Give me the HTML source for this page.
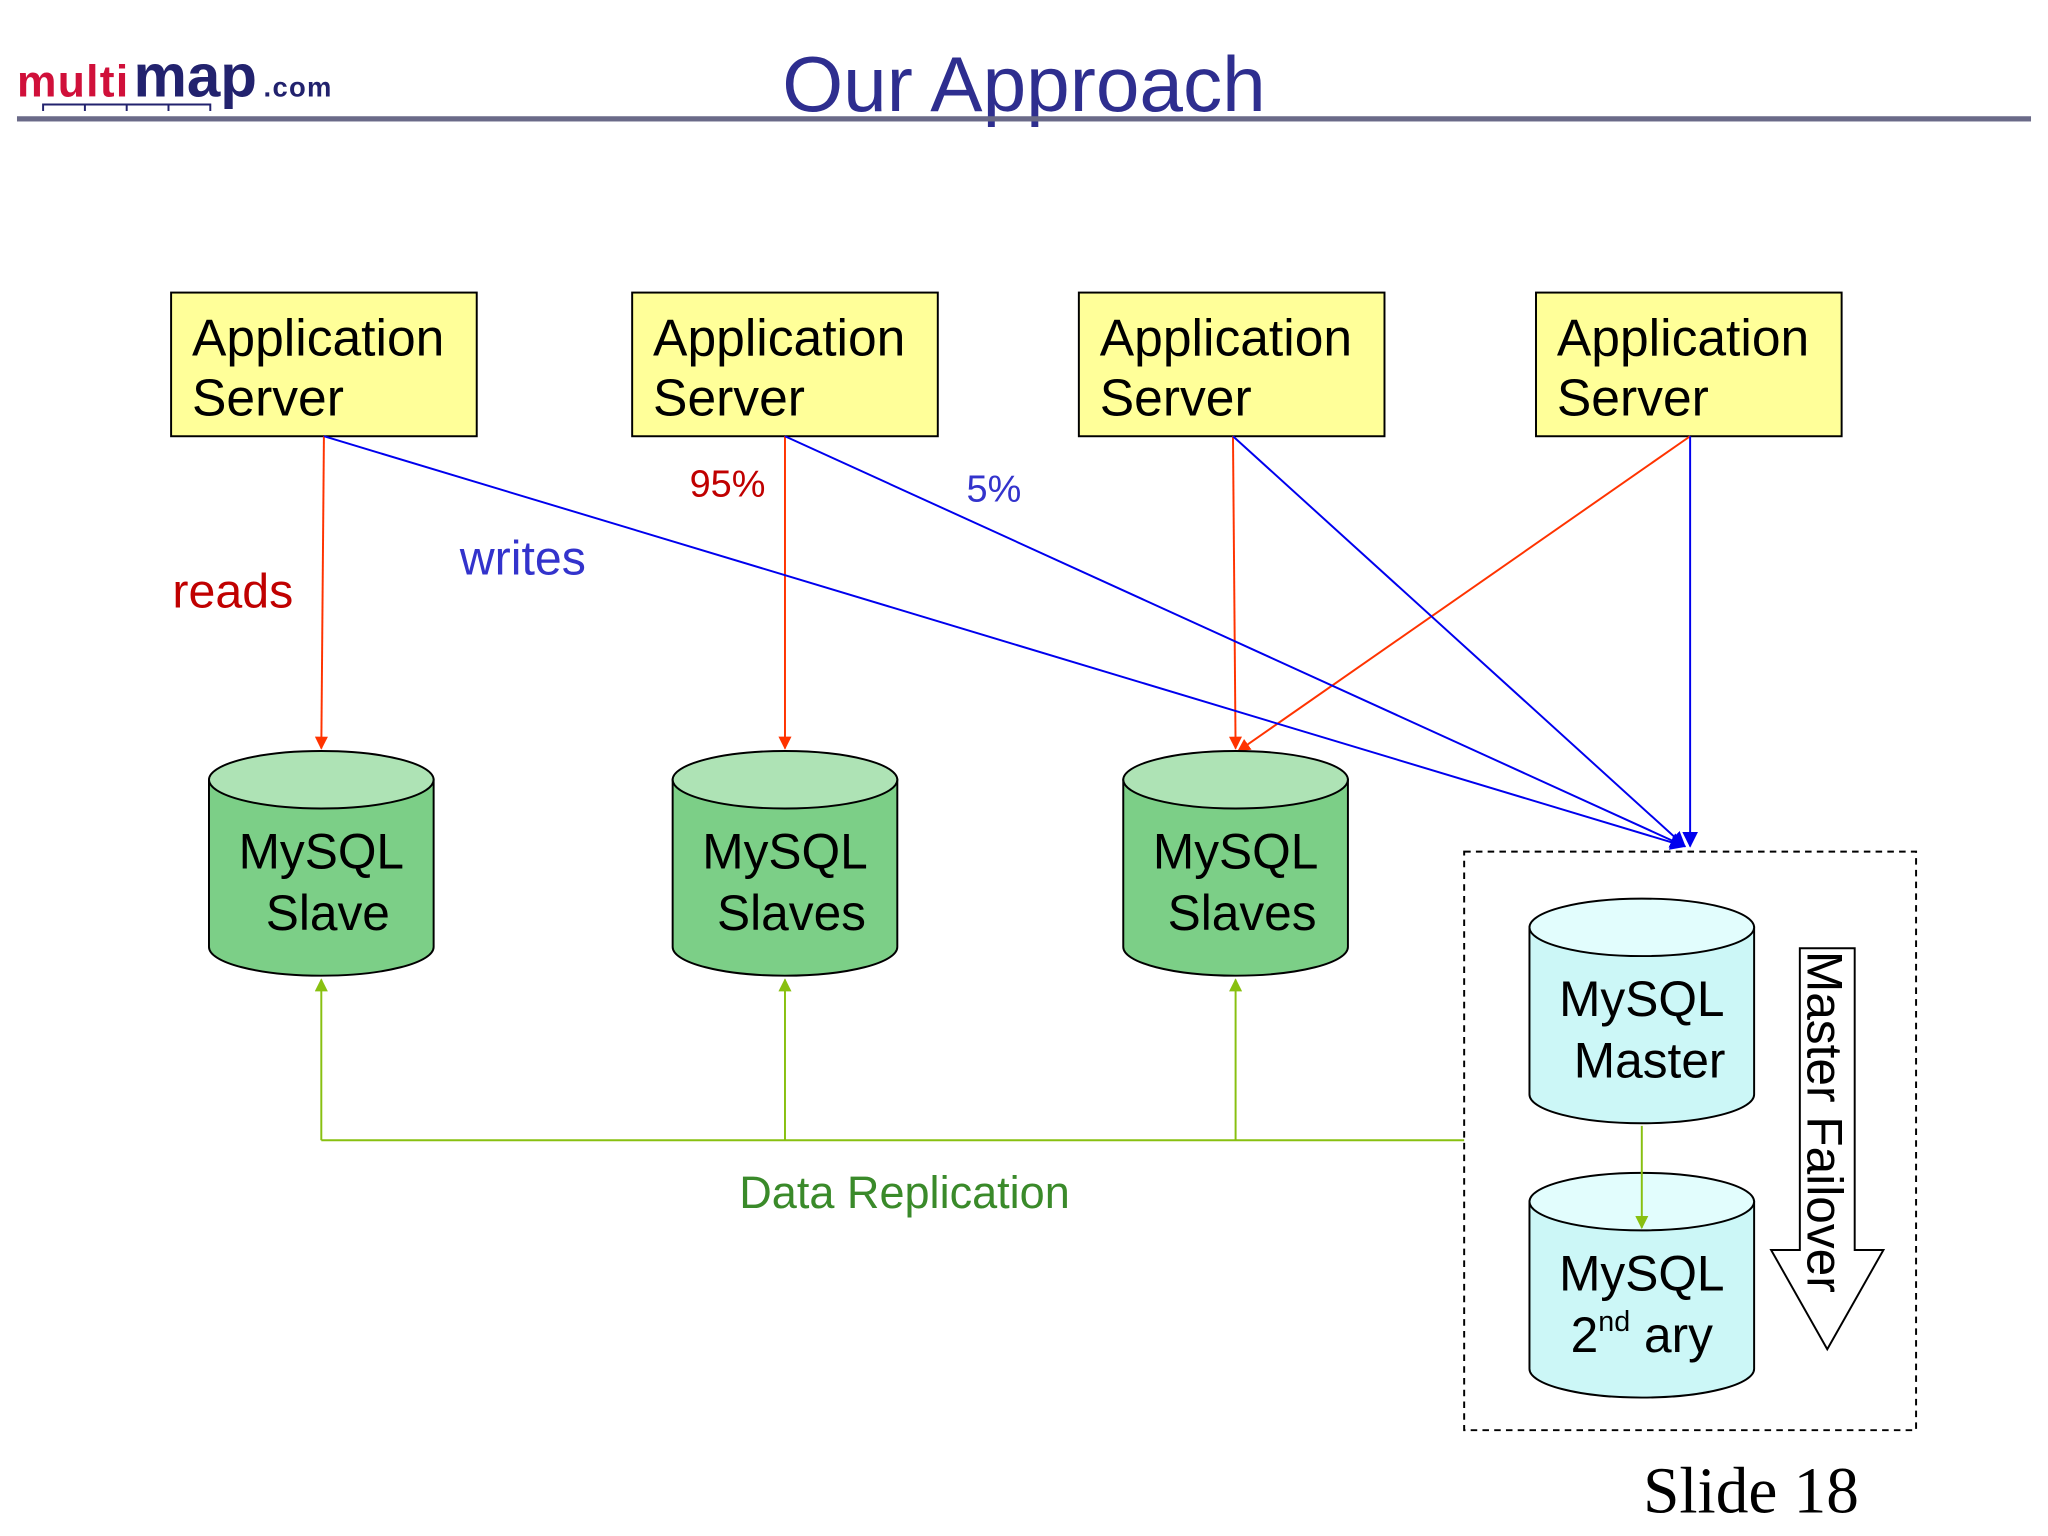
<!DOCTYPE html>
<html><head><meta charset="utf-8"><style>html,body{margin:0;padding:0;background:#fff}svg{display:block}</style></head>
<body>
<svg width="2048" height="1536" viewBox="0 0 1568 1176" xmlns="http://www.w3.org/2000/svg" font-family="Liberation Sans, sans-serif">
<defs>
<marker id="ar" markerWidth="10" markerHeight="10" refX="9" refY="5" orient="auto" markerUnits="userSpaceOnUse"><path d="M0,0 L10,5 L0,10 z" fill="#ff3300"/></marker>
<marker id="ab" markerWidth="12" markerHeight="12" refX="11" refY="6" orient="auto" markerUnits="userSpaceOnUse"><path d="M0,0 L12,6 L0,12 z" fill="#0000ee"/></marker>
<marker id="ag" markerWidth="10" markerHeight="10" refX="9" refY="5" orient="auto" markerUnits="userSpaceOnUse"><path d="M0,0 L10,5 L0,10 z" fill="#88c010"/></marker>
</defs>
<rect width="1568" height="1176" fill="#fff"/>
<text x="13" y="74" font-size="34" font-weight="bold" fill="#d0103a" letter-spacing="1">multi<tspan dx="3" fill="#22226e" font-size="46" letter-spacing="0">map</tspan><tspan dx="5" fill="#22226e" font-size="21">.com</tspan></text>
<path d="M33,85 V80 H161 V85 M65,80 V85 M97,80 V85 M129,80 V85" stroke="#22226e" stroke-width="1.5" fill="none"/>
<text x="784" y="85" font-size="60" fill="#2e2e8f" text-anchor="middle">Our Approach</text>
<rect x="13" y="89" width="1542" height="4" fill="#6a6a88"/>
<g fill="#ffff99" stroke="#000" stroke-width="1.5">
<rect x="131" y="224" width="234" height="110"/><rect x="484" y="224" width="234" height="110"/><rect x="826" y="224" width="234" height="110"/><rect x="1176" y="224" width="234" height="110"/>
</g>
<g font-size="39.5" fill="#000">
<text x="147" y="272">Application</text><text x="147" y="318">Server</text>
<text x="500" y="272">Application</text><text x="500" y="318">Server</text>
<text x="842" y="272">Application</text><text x="842" y="318">Server</text>
<text x="1192" y="272">Application</text><text x="1192" y="318">Server</text>
</g>
<g stroke-width="1.5" fill="none">
<line x1="248" y1="334" x2="246" y2="573" stroke="#ff3300" marker-end="url(#ar)"/>
<line x1="601" y1="334" x2="601" y2="573" stroke="#ff3300" marker-end="url(#ar)"/>
<line x1="944" y1="334" x2="946" y2="573" stroke="#ff3300" marker-end="url(#ar)"/>
<line x1="1294" y1="334" x2="948" y2="575" stroke="#ff3300" marker-end="url(#ar)"/>
<line x1="248" y1="334" x2="1290" y2="648" stroke="#0000ee" marker-end="url(#ab)"/>
<line x1="601" y1="334" x2="1290" y2="648" stroke="#0000ee" marker-end="url(#ab)"/>
<line x1="944" y1="334" x2="1290" y2="648" stroke="#0000ee" marker-end="url(#ab)"/>
<line x1="1294" y1="334" x2="1294" y2="648" stroke="#0000ee" marker-end="url(#ab)"/>
<path d="M1121,873 H246" stroke="#88c010"/>
<line x1="246" y1="873" x2="246" y2="750" stroke="#88c010" marker-end="url(#ag)"/>
<line x1="601" y1="873" x2="601" y2="750" stroke="#88c010" marker-end="url(#ag)"/>
<line x1="946" y1="873" x2="946" y2="750" stroke="#88c010" marker-end="url(#ag)"/>
</g>
<g stroke="#000" stroke-width="1.5">
<path d="M160,597 V725 A86,22 0 0 0 332,725 V597 Z" fill="#7ccf87"/><ellipse cx="246" cy="597" rx="86" ry="22" fill="#aee3b5"/>
<path d="M515,597 V725 A86,22 0 0 0 687,725 V597 Z" fill="#7ccf87"/><ellipse cx="601" cy="597" rx="86" ry="22" fill="#aee3b5"/>
<path d="M860,597 V725 A86,22 0 0 0 1032,725 V597 Z" fill="#7ccf87"/><ellipse cx="946" cy="597" rx="86" ry="22" fill="#aee3b5"/>
<path d="M1171,710 V838 A86,22 0 0 0 1343,838 V710 Z" fill="#ccf7f7"/><ellipse cx="1257" cy="710" rx="86" ry="22" fill="#e2fdfd"/>
<path d="M1171,920 V1048 A86,22 0 0 0 1343,1048 V920 Z" fill="#ccf7f7"/><ellipse cx="1257" cy="920" rx="86" ry="22" fill="#e2fdfd"/>
</g>
<line x1="1257" y1="862" x2="1257" y2="940" stroke="#88c010" stroke-width="1.5" marker-end="url(#ag)"/>
<rect x="1121" y="652" width="346" height="443" fill="none" stroke="#000" stroke-width="1.5" stroke-dasharray="5,4"/>
<g font-size="38" fill="#000" text-anchor="middle">
<text x="246" y="665">MySQL</text><text x="251" y="712">Slave</text>
<text x="601" y="665">MySQL</text><text x="606" y="712">Slaves</text>
<text x="946" y="665">MySQL</text><text x="951" y="712">Slaves</text>
<text x="1257" y="778">MySQL</text><text x="1263" y="825">Master</text>
<text x="1257" y="988">MySQL</text><text x="1257" y="1035">2<tspan font-size="22" dy="-16">nd</tspan><tspan dy="16"> ary</tspan></text>
</g>
<path d="M1378,726 H1420 V957 H1442 L1399,1033 L1356,957 H1378 Z" fill="#fff" stroke="#000" stroke-width="1.5"/>
<text transform="translate(1384,728) rotate(90)" font-size="38" fill="#000">Master Failover</text>
<text x="132" y="465" font-size="37" fill="#c00000">reads</text>
<text x="352" y="440" font-size="37" fill="#3333cc">writes</text>
<text x="528" y="380" font-size="29" fill="#c00000">95%</text>
<text x="740" y="384" font-size="29" fill="#3333cc">5%</text>
<text x="566" y="925" font-size="34.5" fill="#3a8a2a">Data Replication</text>
<text x="1258" y="1158" font-size="50" font-family="Liberation Serif, serif" fill="#000">Slide 18</text>
</svg>
</body></html>
